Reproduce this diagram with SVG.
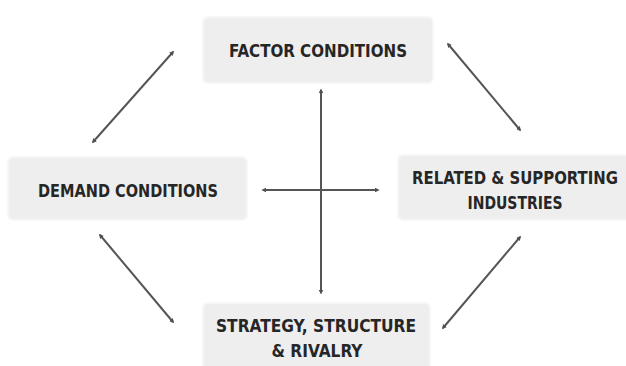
<svg xmlns="http://www.w3.org/2000/svg" width="626" height="366" viewBox="0 0 626 366">
<defs>
<marker id="ah" viewBox="0 0 6 6" refX="4" refY="3" markerWidth="2.4" markerHeight="2.4" orient="auto-start-reverse" markerUnits="strokeWidth">
<path d="M0,0 L6,3 L0,6 z" fill="#505050"/>
</marker>
<filter id="soft" x="-5%" y="-10%" width="110%" height="120%">
<feGaussianBlur stdDeviation="1.2"/>
</filter>
</defs>
<style>
.box{fill:#eeeeee;}
.lbl{font-family:"DejaVu Sans Condensed","DejaVu Sans",sans-serif;font-stretch:condensed;font-weight:bold;font-size:17px;fill:#262626;text-anchor:middle;}
.ln{stroke:#555555;stroke-width:2;fill:none;marker-start:url(#ah);marker-end:url(#ah);}
</style>
<rect width="626" height="366" fill="#ffffff"/>
<g id="factor">
<rect class="box" x="203" y="17" width="230" height="66" rx="5" filter="url(#soft)"/>
<text class="lbl" x="318" y="57" textLength="178" lengthAdjust="spacingAndGlyphs">FACTOR CONDITIONS</text>
</g>
<g id="demand">
<rect class="box" x="8" y="157" width="239" height="63" rx="5" filter="url(#soft)"/>
<text class="lbl" x="128" y="197" textLength="180" lengthAdjust="spacingAndGlyphs">DEMAND CONDITIONS</text>
</g>
<g id="related">
<rect class="box" x="398" y="155" width="232" height="65" rx="5" filter="url(#soft)"/>
<text class="lbl" x="515" y="184" textLength="206" lengthAdjust="spacingAndGlyphs">RELATED &amp; SUPPORTING</text>
<text class="lbl" x="515" y="209" textLength="95" lengthAdjust="spacingAndGlyphs">INDUSTRIES</text>
</g>
<g id="strategy">
<rect class="box" x="203" y="303" width="227" height="70" rx="5" filter="url(#soft)"/>
<text class="lbl" x="316" y="332" textLength="200" lengthAdjust="spacingAndGlyphs">STRATEGY, STRUCTURE</text>
<text class="lbl" x="317" y="357" textLength="91" lengthAdjust="spacingAndGlyphs">&amp; RIVALRY</text>
</g>
<g id="connectors">
<line class="ln" x1="93" y1="142" x2="173" y2="52"/>
<line class="ln" x1="448" y1="44" x2="520" y2="130"/>
<line class="ln" x1="100" y1="235" x2="173" y2="322"/>
<line class="ln" x1="443" y1="328" x2="520" y2="237"/>
<line class="ln" x1="321" y1="90" x2="321" y2="293"/>
<line class="ln" x1="263" y1="190" x2="378" y2="190"/>
</g>
</svg>
